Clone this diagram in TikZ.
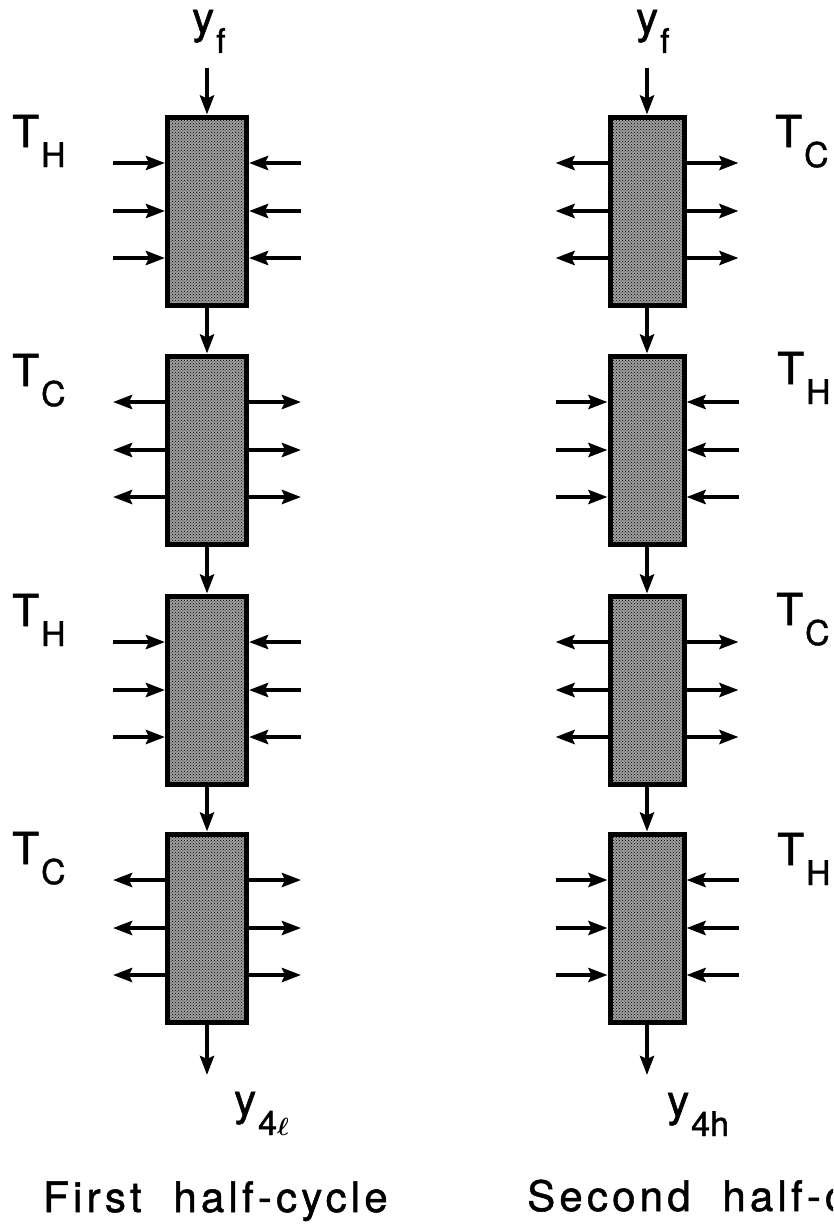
\documentclass[tikz,border=0pt]{standalone}
\usepackage{fontspec}
\setmainfont{TeX Gyre Heros}[FakeBold=1.2]
\newfontfamily\capfont{TeX Gyre Heros}[LetterSpace=10,WordSpace=2,FakeBold=1.2]
\usetikzlibrary{arrows.meta,calc,patterns}
\definecolor{StageClr}{rgb}{0.62,0.62,0.62}
\newcommand\lblsub[2]{#1\kern2pt\raisebox{-20pt}{\fontsize{34}{34}\selectfont #2}}

\begin{document}
\begin{tikzpicture}[x=1pt,y=-1pt,
  stage/.style={draw,line width=5pt,preaction={fill=StageClr},pattern=crosshatch dots,
    minimum height=188pt,inner sep=0pt},
  flow/.style={line width=4.5pt,-{Stealth[length=19pt,width=14pt,inset=3pt]}},
  lbl/.style={anchor=base west,inner sep=0pt,font=\fontsize{44}{44}\selectfont},
  headline/.style={lbl,font=\capfont\fontsize{42}{42}\selectfont}]
\useasboundingbox (0,0) rectangle (833,1226);
\clip (0,0) rectangle (833,1226);

% first half-cycle
\foreach \i/\yc in {1/211,2/450,3/690,4/928}
  \node[stage,minimum width=79pt] (L\i) at (207,\yc) {};
% second half-cycle
\foreach \i/\yc in {1/211,2/450,3/690,4/928}
  \node[stage,minimum width=74pt] (R\i) at (647,\yc) {};

% side ports
\foreach \b in {L,R} \foreach \i in {1,2,3,4} \foreach \o [count=\k] in {-48,0,47} {
  \path (\b\i.west) ++(0,\o) coordinate (\b\i w\k) ++(-52,0) coordinate (\b\i ww\k);
  \path (\b\i.east) ++(0,\o) coordinate (\b\i e\k) ++(52,0) coordinate (\b\i ee\k);
}
% heating stages: flow goes in
\foreach \b/\i in {L/1,L/3,R/2,R/4} \foreach \k in {1,2,3} {
  \draw[flow] (\b\i ww\k) -- (\b\i w\k);
  \draw[flow] (\b\i ee\k) -- (\b\i e\k);
}
% cooling stages: flow goes out
\foreach \b/\i in {L/2,L/4,R/1,R/3} \foreach \k in {1,2,3} {
  \draw[flow] (\b\i w\k) -- (\b\i ww\k);
  \draw[flow] (\b\i e\k) -- (\b\i ee\k);
}

% main stream
\coordinate (Lin) at (207,68);  \coordinate (Lout) at (207,1075);
\coordinate (Rin) at (647,68);  \coordinate (Rout) at (647,1075);
\foreach \b in {L,R} {
  \draw[flow] (\b in) -- (\b1.north);
  \draw[flow] (\b1.south) -- (\b2.north);
  \draw[flow] (\b2.south) -- (\b3.north);
  \draw[flow] (\b3.south) -- (\b4.north);
  \draw[flow] (\b4.south) -- (\b out);
}

% temperatures
\node[lbl] (tL1) at (12,147) {\lblsub{T}{H}};
\node[lbl] (tL2) at (12,386) {\lblsub{T}{C}};
\node[lbl] (tL3) at (12,626) {\lblsub{T}{H}};
\node[lbl] (tL4) at (12,864) {\lblsub{T}{C}};
\node[lbl] (tR1) at (775,147) {\lblsub{T}{C}};
\node[lbl] (tR2) at (777,384) {\lblsub{T}{H}};
\node[lbl] (tR3) at (776,625) {\lblsub{T}{C}};
\node[lbl] (tR4) at (777,865) {\lblsub{T}{H}};

% compositions
\node[lbl] (yfL) at (192,33) {\lblsub{y}{f}};
\node[lbl] (yfR) at (636,33) {\lblsub{y}{f}};
\node[lbl] (ylo) at (234,1115) {\lblsub{y}{4\boldmath$\ell$}};
\node[lbl] (yhi) at (667,1116) {\lblsub{y}{4h}};

\node[headline] (capL) at (43,1212) {First half-cycle};
\node[headline] (capR) at (527,1211) {Second half-cycle};
\end{tikzpicture}
\end{document}
